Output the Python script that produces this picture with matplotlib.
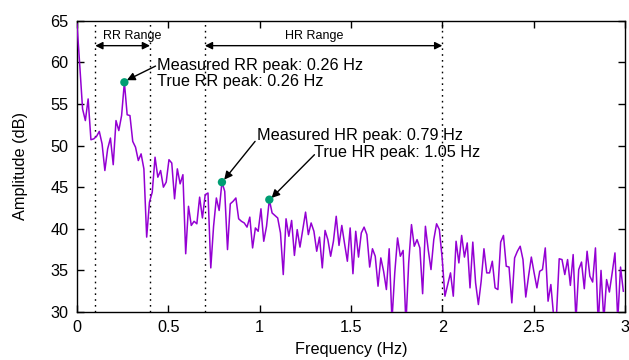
import numpy as np
import matplotlib
matplotlib.use("Agg")
import matplotlib.pyplot as plt

plt.rcParams["font.family"] = ["Liberation Sans", "DejaVu Sans"]

# spectrum bins (Hz) and amplitudes (dB)
df = 0.01526
amp_db = [
    64.6, 59.6, 54.4, 53.0, 55.6, 50.7, 50.8, 51.1, 51.7, 50.2,
    47.0, 49.6, 50.9, 47.7, 53.0, 51.8, 53.6, 57.6, 53.7, 53.6,
    50.5, 49.8, 48.2, 49.0, 47.2, 39.0, 43.2, 44.4, 48.6, 46.2,
    47.0, 45.0, 45.6, 48.3, 47.9, 43.6, 47.2, 45.4, 46.5, 37.0,
    42.7, 40.4, 40.9, 40.6, 43.8, 41.3, 44.1, 44.3, 35.3, 40.3,
    43.7, 42.2, 45.6, 44.5, 37.5, 43.0, 43.3, 43.7, 41.2, 40.9,
    40.7, 40.2, 41.4, 37.7, 40.1, 39.7, 42.4, 38.5, 40.3, 43.5,
    41.9, 41.6, 41.3, 39.5, 34.5, 41.2, 39.1, 41.0, 36.8, 39.9,
    37.8, 39.9, 42.0, 39.3, 40.7, 39.7, 37.3, 39.0, 35.3, 39.8,
    38.7, 36.7, 38.5, 41.5, 38.0, 40.4, 38.2, 36.1, 40.1, 34.6,
    39.7, 36.6, 39.5, 40.2, 39.3, 35.4, 37.6, 36.7, 33.1, 36.5,
    34.9, 32.7, 37.6, 29.0, 34.7, 38.9, 36.7, 37.4, 28.5, 35.9,
    40.5, 37.9, 38.7, 37.7, 32.2, 40.3, 37.5, 35.1, 38.7, 40.6,
    39.9, 36.5, 31.9, 33.3, 34.7, 31.9, 38.5, 35.9, 39.2, 36.6,
    38.3, 32.9, 38.4, 33.5, 30.9, 33.7, 37.6, 34.7, 34.7, 36.1,
    32.9, 32.7, 38.4, 39.2, 35.5, 35.4, 31.1, 36.5, 37.3, 37.9,
    36.3, 31.8, 34.3, 36.6, 34.7, 32.9, 34.9, 35.1, 37.7, 31.3,
    33.3, 29.5, 29.5, 36.4, 36.3, 34.5, 36.3, 33.2, 36.9, 29.0,
    35.1, 36.0, 32.8, 37.3, 34.3, 33.6, 37.7, 28.5, 35.0, 29.0,
    33.9, 32.4, 34.7, 37.1, 29.0, 35.4, 32.5,
]
freq = np.arange(len(amp_db)) * df

# marked peaks
peak_idx = [17, 52, 69]

# band limits (Hz)
rr_band = [0.1, 0.4]
hr_band = [0.7, 2.0]

xticks = [0, 0.5, 1, 1.5, 2, 2.5, 3]
xticklabels = ["0", "0.5", "1", "1.5", "2", "2.5", "3"]
yticks = [30, 35, 40, 45, 50, 55, 60, 65]

fig = plt.figure(figsize=(6.29, 3.6), dpi=100)
ax = fig.add_axes([0.1224, 0.1333, 0.8712, 0.8092])

ax.plot(freq, amp_db, color="#9400D3", lw=1.1, zorder=3)
amp = np.array(amp_db)
ax.scatter(freq[peak_idx], amp[peak_idx], s=36, color="#009E73", zorder=5,
           edgecolors="none")

for xv in rr_band + hr_band:
    ax.axvline(xv, color="black", ls=(0, (1.2, 3)), lw=1.0, zorder=2)

# range arrows
arr = dict(arrowstyle="<|-|>", color="black", lw=1.0, mutation_scale=11,
           shrinkA=0, shrinkB=0)
ax.annotate("", xy=(rr_band[0], 62.0), xytext=(rr_band[1], 62.0), arrowprops=arr)
ax.annotate("", xy=(hr_band[0], 62.0), xytext=(hr_band[1], 62.0), arrowprops=arr)
ax.text(0.30, 63.2, "RR Range", ha="center", va="center", fontsize=9)
ax.text(1.30, 63.2, "HR Range", ha="center", va="center", fontsize=9)

one = dict(arrowstyle="-|>", color="black", lw=1.0, mutation_scale=12,
           shrinkA=0, shrinkB=0)
# RR annotation
ax.annotate("", xy=(0.273, 57.85), xytext=(0.43, 59.55), arrowprops=one, zorder=4)
ax.text(0.438, 59.6, "Measured RR peak: 0.26 Hz", ha="left", va="center",
        fontsize=11.7)
ax.text(0.438, 57.65, "True RR peak: 0.26 Hz", ha="left", va="center",
        fontsize=11.7)
# HR measured
ax.annotate("", xy=(0.806, 45.9), xytext=(0.975, 50.5), arrowprops=one, zorder=4)
ax.text(0.985, 51.2, "Measured HR peak: 0.79 Hz", ha="left", va="center",
        fontsize=11.7)
# HR true
ax.annotate("", xy=(1.065, 43.7), xytext=(1.30, 48.9), arrowprops=one, zorder=4)
ax.text(1.30, 49.2, "True HR peak: 1.05 Hz", ha="left", va="center",
        fontsize=11.7)

ax.set_xlim(0, 3)
ax.set_ylim(30, 65)
ax.set_xticks(xticks)
ax.set_xticklabels(xticklabels)
ax.set_yticks(yticks)
ax.tick_params(direction="in", length=5, width=1, top=True, right=True,
               labelsize=11.7, pad=6)
for s in ax.spines.values():
    s.set_linewidth(1.0)

ax.set_xlabel("Frequency (Hz)", fontsize=11.7, labelpad=5)
ax.set_ylabel("Amplitude (dB)", fontsize=11.7, labelpad=16)

fig.savefig("out.png", dpi=100)
